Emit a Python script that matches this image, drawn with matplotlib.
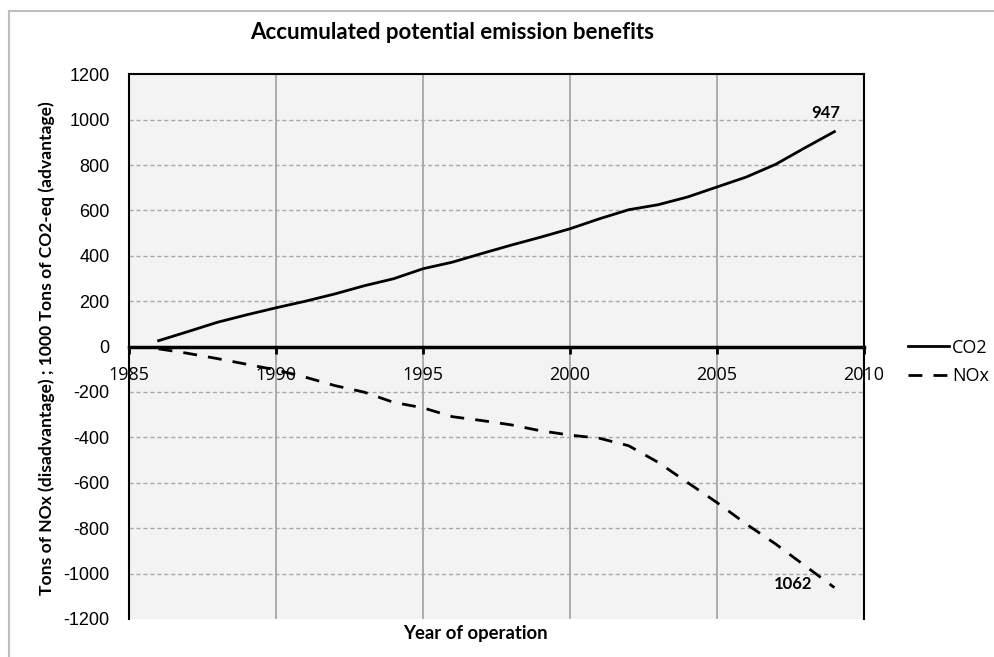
import numpy as np
import matplotlib.pyplot as plt
from matplotlib.lines import Line2D

# Datos
years = list(range(1986, 2010))
co2 = [26, 66, 107, 140, 171, 200, 232, 268, 299, 343, 372, 410,
       447, 482, 519, 563, 603, 625, 659, 703, 747, 803, 876, 947]
nox = [-10, -30, -53, -78, -103, -135, -172, -201, -246, -270, -309, -326,
       -345, -371, -390, -404, -437, -510, -599, -687, -782, -870, -966, -1062]

x_ticks = [1985, 1990, 1995, 2000, 2005, 2010]
y_ticks = list(range(-1200, 1201, 200))

plt.rcParams['font.family'] = ['Open Sans', 'DejaVu Sans']
bold_font = ['Lato', 'DejaVu Sans']

fig = plt.figure(figsize=(9.94, 6.57), dpi=100)
ax = fig.add_axes([0.130, 0.058, 0.739, 0.829])
ax.set_facecolor('#f3f3f3')

# Eje X cruzando en y=0 (antes de configurar las etiquetas)
for side in ['left', 'right', 'top']:
    ax.spines[side].set_linewidth(1.5)
ax.spines['bottom'].set_position(('data', 0))
ax.spines['bottom'].set_linewidth(2.5)

# Rejilla: vertical continua, horizontal discontinua
for xv in x_ticks[1:-1]:
    ax.axvline(xv, color='#a0a0a0', linewidth=1.2, zorder=1)
for yv in y_ticks[1:-1]:
    if yv != 0:
        ax.axhline(yv, color='#a8a8a8', linewidth=1.0, linestyle=(0, (3, 2)), zorder=1)

ax.plot(years, co2, color='black', linewidth=2, zorder=3)
ax.plot(years, nox, color='black', linewidth=2, linestyle=(0, (5, 4)), zorder=3)

ax.set_xlim(1985, 2010)
ax.set_ylim(-1200, 1200)
ax.set_xticks(x_ticks)
ax.set_yticks(y_ticks)
ax.set_yticklabels([str(v) for v in y_ticks], fontsize=13, family='Liberation Sans')
ax.set_xticklabels([str(v) for v in x_ticks], fontsize=13)
ax.tick_params(axis='y', length=0, pad=14)
ax.tick_params(axis='x', direction='out', length=5, width=2, pad=9)

ax.text(years[-1] - 0.3, co2[-1] + 45, str(co2[-1]), fontsize=12, family=bold_font,
        fontweight='bold', ha='center', va='bottom')
ax.text(years[-1] - 1.4, nox[-1] + 15, str(-nox[-1]), fontsize=12, family=bold_font,
        fontweight='bold', ha='center', va='center')

fig.text(0.455, 0.951, 'Accumulated potential emission benefits', fontsize=16,
         family=bold_font, fontweight='bold', ha='center', va='center')
fig.text(0.478, 0.036, 'Year of operation', fontsize=13.3, family=bold_font,
         fontweight='bold', ha='center', va='center')
fig.text(0.047, 0.47, 'Tons of NOx (disadvantage) ; 1000 Tons of CO2-eq (advantage)',
         fontsize=12.6, family=bold_font, fontweight='bold', rotation=90,
         ha='center', va='center')

# Leyenda a la derecha
handles = [Line2D([], [], color='black', linewidth=2),
           Line2D([], [], color='black', linewidth=2, linestyle=(0, (5, 4)))]
fig.legend(handles, ['CO2', 'NOx'], loc='center left', bbox_to_anchor=(0.913, 0.449),
           frameon=False, fontsize=13, handlelength=2.3, handletextpad=0.15,
           labelspacing=0.6, borderpad=0, borderaxespad=0)

# Borde exterior del gráfico (solo izquierda y arriba visibles)
fig.add_artist(Line2D([0.009, 0.009], [0.0, 0.983], color='#bdbdbd', linewidth=1.5,
                      transform=fig.transFigure))
fig.add_artist(Line2D([0.009, 1.0], [0.983, 0.983], color='#bdbdbd', linewidth=1.5,
                      transform=fig.transFigure))

fig.savefig('out.png', dpi=100)
